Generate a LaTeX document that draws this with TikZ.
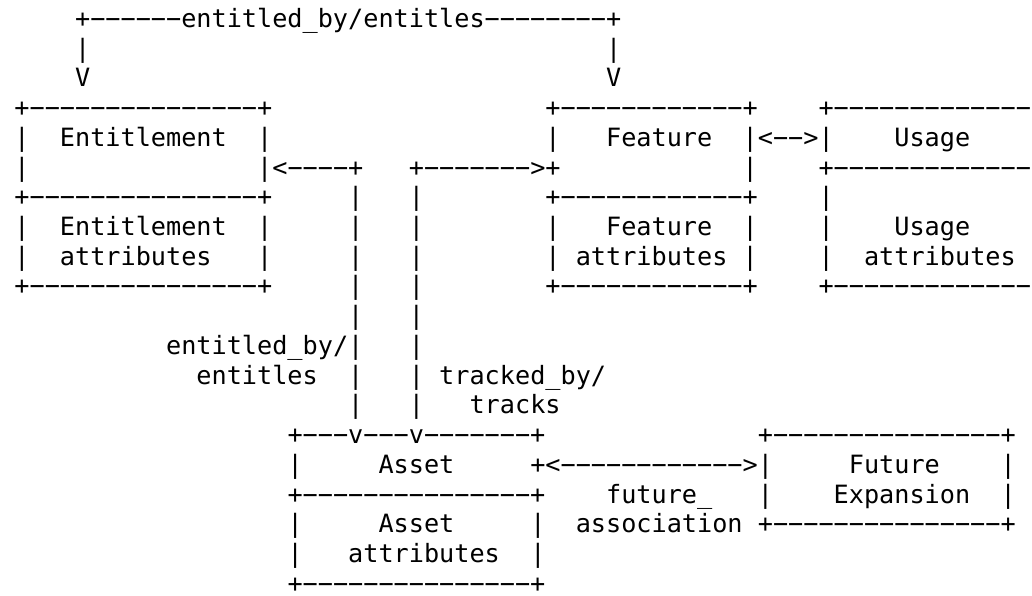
\documentclass[tikz,border=0pt]{standalone}
\usepackage{fontspec}
\setmonofont{DejaVu Sans Mono}
\newcounter{cellno}
\tikzset{cell/.style={anchor=base west, inner sep=0pt, outer sep=0pt, text=black,
  font=\fontsize{25.2}{30}\selectfont\ttfamily}}
\newcommand\putcell[3]{\stepcounter{cellno}%
  \node[cell] (c\arabic{cellno}) at ({14.41+#1*15.172},{567.6-29.73*#2}) {#3};}
\begin{document}
\begin{tikzpicture}[x=1pt,y=1pt]
\useasboundingbox (0,0) rectangle (1032,595);
\fill[white] (0,0) rectangle (1032,595);
\clip (0,0) rectangle (1032,595);
% row 0-2
\putcell{4}{0}{+−−−−−−entitled\_by/entitles−−−−−−−−+}
\putcell{4}{1}{|}\putcell{39}{1}{|}
\putcell{4}{2}{V}\putcell{39}{2}{V}
% row 3
\putcell{0}{3}{+−−−−−−−−−−−−−−−+}\putcell{35}{3}{+−−−−−−−−−−−−+}\putcell{53}{3}{+−−−−−−−−−−−−−}
% row 4
\putcell{0}{4}{|}\putcell{3}{4}{Entitlement}\putcell{16}{4}{|}
\putcell{35}{4}{|}\putcell{39}{4}{Feature}\putcell{48}{4}{|<−−>|}\putcell{58}{4}{Usage}
% row 5
\putcell{0}{5}{|}\putcell{16}{5}{|<−−−−+}\putcell{26}{5}{+−−−−−−−>+}
\putcell{48}{5}{|}\putcell{53}{5}{+−−−−−−−−−−−−−}
% row 6
\putcell{0}{6}{+−−−−−−−−−−−−−−−+}\putcell{22}{6}{|}\putcell{26}{6}{|}
\putcell{35}{6}{+−−−−−−−−−−−−+}\putcell{53}{6}{|}
% row 7
\putcell{0}{7}{|}\putcell{3}{7}{Entitlement}\putcell{16}{7}{|}\putcell{22}{7}{|}\putcell{26}{7}{|}
\putcell{35}{7}{|}\putcell{39}{7}{Feature}\putcell{48}{7}{|}\putcell{53}{7}{|}\putcell{58}{7}{Usage}
% row 8
\putcell{0}{8}{|}\putcell{3}{8}{attributes}\putcell{16}{8}{|}\putcell{22}{8}{|}\putcell{26}{8}{|}
\putcell{35}{8}{|}\putcell{37}{8}{attributes}\putcell{48}{8}{|}\putcell{53}{8}{|}\putcell{56}{8}{attributes}
% row 9
\putcell{0}{9}{+−−−−−−−−−−−−−−−+}\putcell{22}{9}{|}\putcell{26}{9}{|}
\putcell{35}{9}{+−−−−−−−−−−−−+}\putcell{53}{9}{+−−−−−−−−−−−−−}
% rows 10-13
\putcell{22}{10}{|}\putcell{26}{10}{|}
\putcell{10}{11}{entitled\_by/|}\putcell{26}{11}{|}
\putcell{12}{12}{entitles}\putcell{22}{12}{|}\putcell{26}{12}{|}\putcell{28}{12}{tracked\_by/}
\putcell{22}{13}{|}\putcell{26}{13}{|}\putcell{30}{13}{tracks}
% row 14
\putcell{18}{14}{+−−−v−−−v−−−−−−−+}\putcell{49}{14}{+−−−−−−−−−−−−−−−+}
% row 15
\putcell{18}{15}{|}\putcell{24}{15}{Asset}\putcell{34}{15}{+<−−−−−−−−−−−−>|}
\putcell{55}{15}{Future}\putcell{65}{15}{|}
% row 16
\putcell{18}{16}{+−−−−−−−−−−−−−−−+}\putcell{39}{16}{future\_}\putcell{49}{16}{|}
\putcell{54}{16}{Expansion}\putcell{65}{16}{|}
% row 17
\putcell{18}{17}{|}\putcell{24}{17}{Asset}\putcell{34}{17}{|}\putcell{37}{17}{association}
\putcell{49}{17}{+−−−−−−−−−−−−−−−+}
% row 18-19
\putcell{18}{18}{|}\putcell{22}{18}{attributes}\putcell{34}{18}{|}
\putcell{18}{19}{+−−−−−−−−−−−−−−−+}
\end{tikzpicture}
\end{document}
